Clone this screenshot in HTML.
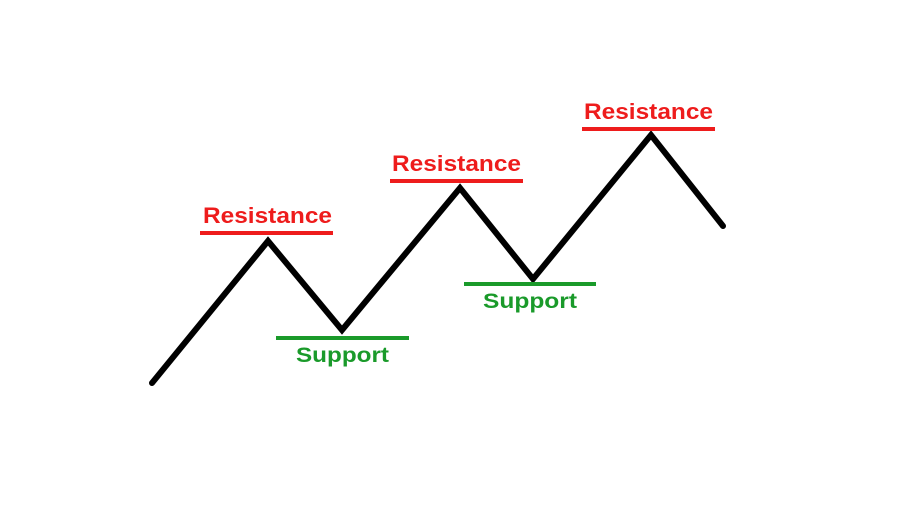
<!DOCTYPE html>
<html><head><meta charset="utf-8"><style>html,body{margin:0;padding:0;background:#fff;}</style></head>
<body>
<svg width="900" height="500" viewBox="0 0 900 500" xmlns="http://www.w3.org/2000/svg">
<rect width="900" height="500" fill="#fff"/>
<polyline points="152,383 268,241 342,330 460,188 533,279 651,135 723,226" fill="none" stroke="#000" stroke-width="6" stroke-linejoin="miter" stroke-linecap="round"/>
<g stroke="#ee1c1c" stroke-width="4">
<line x1="200" y1="233" x2="333" y2="233"/>
<line x1="390" y1="181" x2="523" y2="181"/>
<line x1="582" y1="129" x2="715" y2="129"/>
</g>
<g stroke="#1a9a2a" stroke-width="4">
<line x1="276" y1="338" x2="409" y2="338"/>
<line x1="464" y1="284" x2="596" y2="284"/>
</g>
<g font-family="Liberation Sans, sans-serif" font-weight="bold" font-size="22" fill="#ee1c1c">
<text x="203" y="223" textLength="129" lengthAdjust="spacingAndGlyphs">Resistance</text>
<text x="392" y="171" textLength="129" lengthAdjust="spacingAndGlyphs">Resistance</text>
<text x="584" y="119" textLength="129" lengthAdjust="spacingAndGlyphs">Resistance</text>
</g>
<g font-family="Liberation Sans, sans-serif" font-weight="bold" font-size="21" fill="#1a9a2a">
<text x="296" y="362" textLength="93" lengthAdjust="spacingAndGlyphs">Support</text>
<text x="483" y="308" textLength="94" lengthAdjust="spacingAndGlyphs">Support</text>
</g>
</svg>
</body></html>
